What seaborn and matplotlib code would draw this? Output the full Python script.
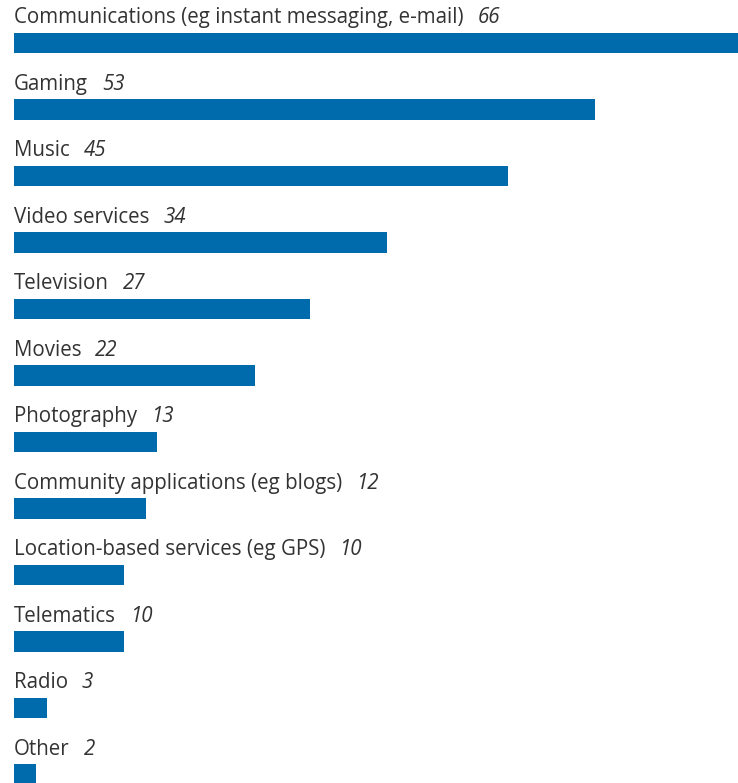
import matplotlib
matplotlib.use("Agg")
import matplotlib.pyplot as plt
import seaborn as sns
import pandas as pd

categories = [
    "Communications (eg instant messaging, e-mail)",
    "Gaming",
    "Music",
    "Video services",
    "Television",
    "Movies",
    "Photography",
    "Community applications (eg blogs)",
    "Location-based services (eg GPS)",
    "Telematics",
    "Radio",
    "Other",
]
values = [66, 53, 45, 34, 27, 22, 13, 12, 10, 10, 3, 2]

BAR_COLOR = "#006bac"
TEXT_COLOR = "#333333"

sns.set_theme(style="white")
plt.rcParams["font.family"] = ["Open Sans", "DejaVu Sans"]

df = pd.DataFrame({"category": categories, "value": values})

W, H, DPI = 738, 783, 100
fig = plt.figure(figsize=(W / DPI, H / DPI), dpi=DPI)
ax = fig.add_axes([0, 0, 1, 1])

sns.barplot(data=df, x="value", y="category", orient="h", color=BAR_COLOR,
            saturation=1, width=0.31, linewidth=0, ax=ax)

# pixel geometry: value 0 at x=14px, value 66 at the right edge;
# row i centred at 43 + 66.5*i px from the top
px_per_unit = (W - 14) / 66
ax.set_xlim(-14 / px_per_unit, 66)
row_px = 66.5
ax.set_ylim((H - 43) / row_px, -43 / row_px)
ax.axis("off")

FS = 14.8
for i, (cat, val) in enumerate(zip(categories, values)):
    t = ax.text(0, i - 0.225, cat, ha="left", va="bottom", fontsize=FS,
                color=TEXT_COLOR)
    ax.annotate(str(val), xy=(1, 0), xycoords=t, xytext=(10, 0),
                textcoords="offset points", ha="left", va="bottom",
                fontsize=FS, style="italic", color=TEXT_COLOR)

fig.savefig("out.png", dpi=DPI)
